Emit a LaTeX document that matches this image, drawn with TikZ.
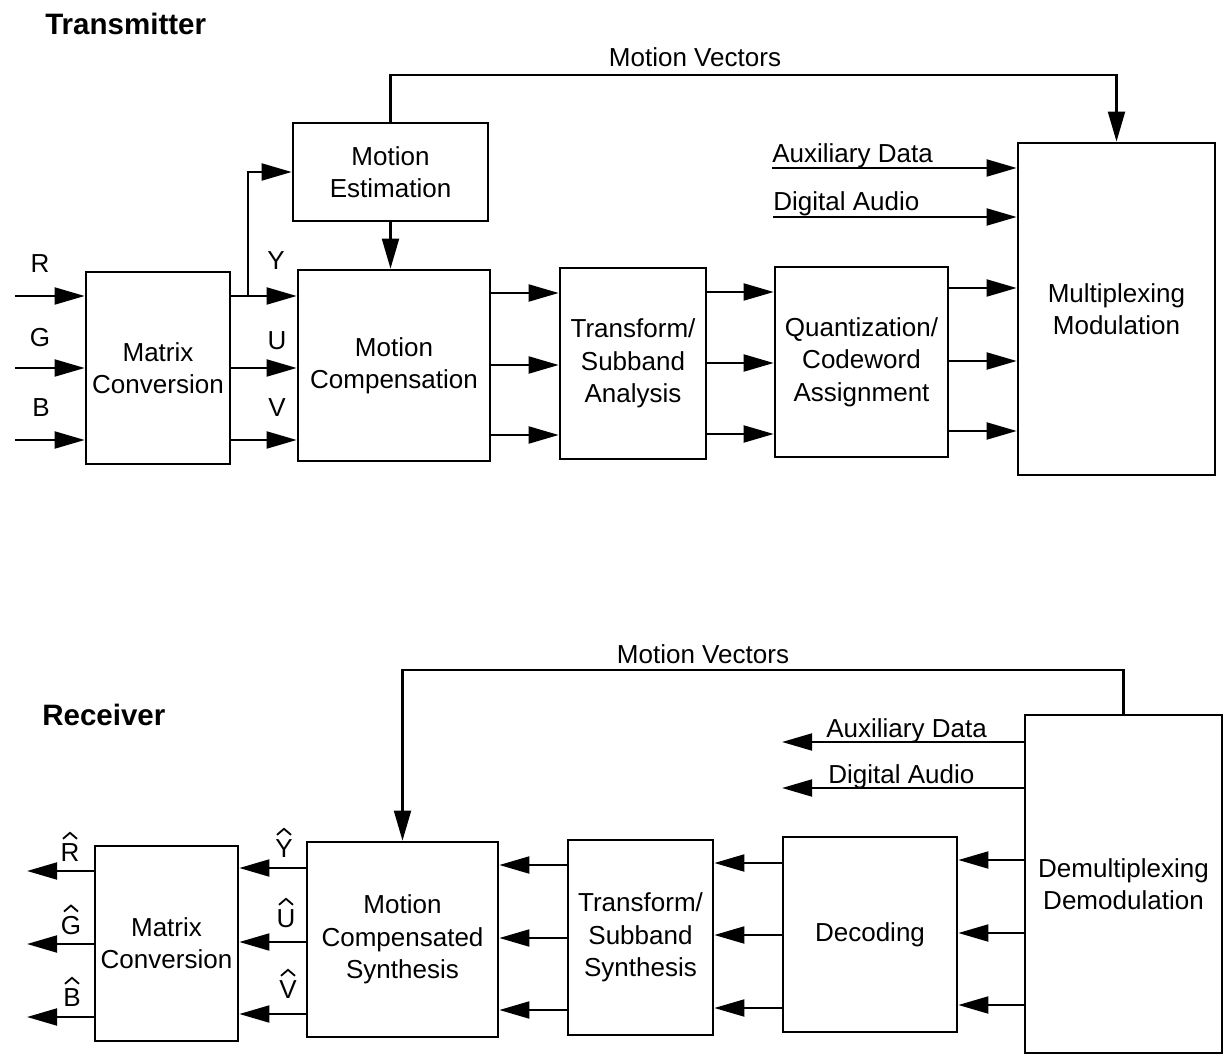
\documentclass[tikz,border=0pt]{standalone}
\usepackage{fontspec}
\setmainfont{Liberation Sans}
\usetikzlibrary{arrows.meta}
\begin{document}
\begin{tikzpicture}[x=0.025cm,y=-0.025cm,
  txt/.style={font=\fontsize{18.5}{23}\selectfont},
  box/.style={draw, line width=1.8pt, align=center, inner sep=0pt, txt},
  wire/.style={line width=1.8pt},
  arr/.style={wire, -{Triangle[length=0.75cm,width=0.42cm]}},
  lbl/.style={txt, inner sep=0pt},
  hatmark/.style={line width=1.3pt, line join=miter},
  heading/.style={font=\fontsize{21}{25}\selectfont\bfseries, inner sep=0pt, anchor=base west}]
\useasboundingbox (0,0) rectangle (1225,1056);

% ---------------- Transmitter ----------------
\node[heading] (tx) at (45,35) {Transmitter};

\node[box, minimum width=3.6cm,   minimum height=4.8cm]   (mxa)  at (158,368)    {Matrix\\Conversion};
\node[box, minimum width=4.875cm, minimum height=2.45cm]  (me)   at (390.5,172)  {Motion\\Estimation};
\node[box, minimum width=4.8cm,   minimum height=4.775cm] (mc)   at (394,365.5)  {Motion\\Compensation};
\node[box, minimum width=3.65cm,  minimum height=4.775cm] (tsa)  at (633,363.5)  {Transform/\\Subband\\Analysis};
\node[box, minimum width=4.325cm, minimum height=4.75cm]  (qca)  at (861.5,362)  {Quantization/\\Codeword\\Assignment};
\node[box, minimum width=4.925cm, minimum height=8.3cm]   (mux)  at (1116.5,309) {Multiplexing\\Modulation};

% inputs
\coordinate (inR) at (15,296);
\coordinate (inG) at (15,368);
\coordinate (inB) at (15,440);
\draw[arr] (inR) -- (mxa.west |- inR);
\draw[arr] (inG) -- (mxa.west |- inG);
\draw[arr] (inB) -- (mxa.west |- inB);
\node[lbl, anchor=base] (lR) at (40,273) {R};
\node[lbl, anchor=base] (lG) at (40,347) {G};
\node[lbl, anchor=base] (lB) at (41,417) {B};

% matrix -> motion compensation
\draw[arr] (mxa.east |- 0,296) -- (mc.west |- 0,296);
\draw[arr] (mxa.east |- 0,368) -- (mc.west |- 0,368);
\draw[arr] (mxa.east |- 0,440) -- (mc.west |- 0,440);
\node[lbl, anchor=base] (lY) at (276,270) {Y};
\node[lbl, anchor=base] (lU) at (277,350) {U};
\node[lbl, anchor=base] (lV) at (277,417) {V};

% branch to motion estimation
\coordinate (jY) at (248,296);
\draw[arr] (jY) |- (me.west);
\draw[arr] (me.south) -- (me.south |- mc.north);

% motion vectors
\draw[arr] (me.north) -- (me.north |- 0,75) -| (mux.north);
\node[lbl, anchor=base] (mvt) at (695,67) {Motion Vectors};

% mc -> tsa
\draw[arr] (mc.east |- 0,293) -- (tsa.west |- 0,293);
\draw[arr] (mc.east |- 0,365) -- (tsa.west |- 0,365);
\draw[arr] (mc.east |- 0,435) -- (tsa.west |- 0,435);
% tsa -> qca
\draw[arr] (tsa.east |- 0,292) -- (qca.west |- 0,292);
\draw[arr] (tsa.east |- 0,363) -- (qca.west |- 0,363);
\draw[arr] (tsa.east |- 0,434) -- (qca.west |- 0,434);
% qca -> mux
\draw[arr] (qca.east |- 0,288) -- (mux.west |- 0,288);
\draw[arr] (qca.east |- 0,361) -- (mux.west |- 0,361);
\draw[arr] (qca.east |- 0,431) -- (mux.west |- 0,431);

% auxiliary inputs
\coordinate (auxT) at (772,168);
\coordinate (audT) at (773,217);
\draw[arr] (auxT) -- (mux.west |- auxT);
\draw[arr] (audT) -- (mux.west |- audT);
\node[lbl, anchor=base west] (auxTl) at (772,163) {Auxiliary Data};
\node[lbl, anchor=base west] (audTl) at (773,211) {Digital Audio};

% ---------------- Receiver ----------------
\node[heading] (rx) at (42,725) {Receiver};

\node[box, minimum width=3.575cm, minimum height=4.875cm] (mxb)  at (166.5,943.5) {Matrix\\Conversion};
\node[box, minimum width=4.775cm, minimum height=4.875cm] (mcs)  at (402.5,939.5) {Motion\\Compensated\\Synthesis};
\node[box, minimum width=3.625cm, minimum height=4.875cm] (tss)  at (640.5,937.5) {Transform/\\Subband\\Synthesis};
\node[box, minimum width=4.35cm,  minimum height=4.875cm] (dec)  at (870,934.5)   {Decoding};
\node[box, minimum width=4.925cm, minimum height=8.45cm]  (dmx)  at (1123.5,884)  {Demultiplexing\\Demodulation};

% motion vectors
\draw[arr] (dmx.north) -- (dmx.north |- 0,670) -| (mcs.north);
\node[lbl, anchor=base] (mvr) at (703,663) {Motion Vectors};

% auxiliary outputs
\coordinate (auxR) at (782,742);
\coordinate (audR) at (782,788);
\draw[arr] (dmx.west |- auxR) -- (auxR);
\draw[arr] (dmx.west |- audR) -- (audR);
\node[lbl, anchor=base west] (auxRl) at (826,737) {Auxiliary Data};
\node[lbl, anchor=base west] (audRl) at (828,783) {Digital Audio};

% dmx -> dec
\draw[arr] (dmx.west |- 0,860)  -- (dec.east |- 0,860);
\draw[arr] (dmx.west |- 0,933)  -- (dec.east |- 0,933);
\draw[arr] (dmx.west |- 0,1005) -- (dec.east |- 0,1005);
% dec -> tss
\draw[arr] (dec.west |- 0,863)  -- (tss.east |- 0,863);
\draw[arr] (dec.west |- 0,935)  -- (tss.east |- 0,935);
\draw[arr] (dec.west |- 0,1008) -- (tss.east |- 0,1008);
% tss -> mcs
\draw[arr] (tss.west |- 0,865)  -- (mcs.east |- 0,865);
\draw[arr] (tss.west |- 0,938)  -- (mcs.east |- 0,938);
\draw[arr] (tss.west |- 0,1010) -- (mcs.east |- 0,1010);
% mcs -> mxb
\draw[arr] (mcs.west |- 0,868)  -- (mxb.east |- 0,868);
\draw[arr] (mcs.west |- 0,942)  -- (mxb.east |- 0,942);
\draw[arr] (mcs.west |- 0,1014) -- (mxb.east |- 0,1014);
\node[lbl, anchor=base] (lYh) at (284,857) {Y};
\node[lbl, anchor=base] (lUh) at (286,927) {U};
\node[lbl, anchor=base] (lVh) at (288,998) {V};

% outputs
\coordinate (outR) at (27,871);
\coordinate (outG) at (27,944);
\coordinate (outB) at (27,1017);
\draw[arr] (mxb.west |- outR) -- (outR);
\draw[arr] (mxb.west |- outG) -- (outG);
\draw[arr] (mxb.west |- outB) -- (outB);
\node[lbl, anchor=base] (lRh) at (70,861)  {R};
\node[lbl, anchor=base] (lGh) at (71,934)  {G};
\node[lbl, anchor=base] (lBh) at (72,1006) {B};

% hats over the receiver letters
\foreach \n in {lYh,lUh,lVh,lRh,lGh,lBh}
  \draw[hatmark] ([shift={(-7,-4)}]\n.north) -- ++(7,-6) -- ++(7,6);
\end{tikzpicture}
\end{document}
